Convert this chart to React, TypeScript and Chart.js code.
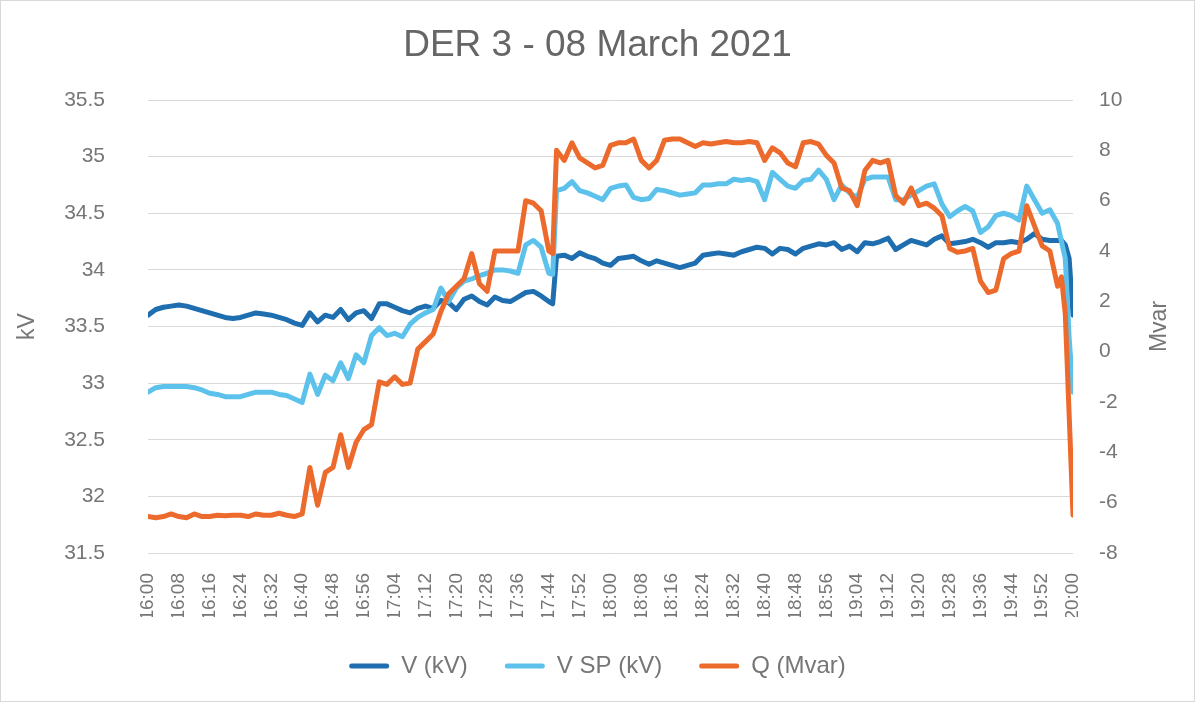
import React, { useEffect, useRef } from "react";
import { Chart, registerables } from "chart.js";
Chart.register(...registerables);

const chartTitle = "DER 3 - 08 March 2021";
const leftAxisTitle = "kV";
const rightAxisTitle = "Mvar";
const seriesNames = ["V (kV)", "V SP (kV)", "Q (Mvar)"];

const timeTicks = [
  "16:00", "16:08", "16:16", "16:24", "16:32", "16:40", "16:48", "16:56",
  "17:04", "17:12", "17:20", "17:28", "17:36", "17:44", "17:52", "18:00",
  "18:08", "18:16", "18:24", "18:32", "18:40", "18:48", "18:56", "19:04",
  "19:12", "19:20", "19:28", "19:36", "19:44", "19:52", "20:00",
];

// minutes after 16:00
const minutes = [
  0, 2, 4, 6, 8, 10, 12, 14, 16, 18, 20, 22, 24, 26, 28, 30, 32, 34, 36, 38,
  40, 42, 44, 46, 48, 50, 52, 54, 56, 58, 60, 62, 64, 66, 68, 70, 72, 74, 76, 78,
  80, 82, 84, 86, 88, 90, 92, 94, 96, 98, 100, 102, 104, 105, 106, 108, 110, 112, 114, 116,
  118, 120, 122, 124, 126, 128, 130, 132, 134, 136, 138, 140, 142, 144, 146, 148, 150, 152, 154, 156,
  158, 160, 162, 164, 166, 168, 170, 172, 174, 176, 178, 180, 182, 184, 186, 188, 190, 192, 194, 196,
  198, 200, 202, 204, 206, 208, 210, 212, 214, 216, 218, 220, 222, 224, 226, 228, 230, 232, 234, 236,
  237, 238, 239, 240,
];

const vKV = [
  33.60, 33.65, 33.67, 33.68, 33.69, 33.68, 33.66, 33.64, 33.62, 33.60, 33.58, 33.57, 33.58, 33.60, 33.62, 33.61, 33.60, 33.58, 33.56, 33.53,
  33.51, 33.62, 33.54, 33.60, 33.58, 33.65, 33.56, 33.62, 33.64, 33.57, 33.70, 33.70, 33.67, 33.64, 33.62, 33.66, 33.68, 33.66, 33.73, 33.71,
  33.65, 33.74, 33.77, 33.72, 33.69, 33.76, 33.73, 33.72, 33.76, 33.80, 33.81, 33.77, 33.72, 33.70, 34.12, 34.13, 34.10, 34.15, 34.12, 34.10,
  34.06, 34.04, 34.10, 34.11, 34.12, 34.08, 34.05, 34.08, 34.06, 34.04, 34.02, 34.04, 34.06, 34.13, 34.14, 34.15, 34.14, 34.13, 34.16, 34.18,
  34.20, 34.19, 34.14, 34.19, 34.18, 34.14, 34.19, 34.21, 34.23, 34.22, 34.24, 34.18, 34.21, 34.16, 34.24, 34.23, 34.25, 34.28, 34.18, 34.22,
  34.26, 34.24, 34.22, 34.27, 34.30, 34.23, 34.24, 34.25, 34.27, 34.24, 34.20, 34.24, 34.24, 34.25, 34.24, 34.27, 34.32, 34.27, 34.26, 34.26,
  34.26, 34.22, 34.10, 33.60,
];

const vSP = [
  32.92, 32.96, 32.97, 32.97, 32.97, 32.97, 32.96, 32.94, 32.91, 32.90, 32.88, 32.88, 32.88, 32.90, 32.92, 32.92, 32.92, 32.90, 32.89, 32.86,
  32.83, 33.08, 32.90, 33.07, 33.02, 33.18, 33.04, 33.25, 33.18, 33.42, 33.49, 33.42, 33.44, 33.41, 33.52, 33.58, 33.62, 33.65, 33.84, 33.72,
  33.84, 33.90, 33.92, 33.95, 33.97, 34.00, 34.00, 33.99, 33.97, 34.22, 34.26, 34.20, 33.97, 33.96, 34.70, 34.72, 34.78, 34.70, 34.68, 34.65,
  34.62, 34.72, 34.74, 34.75, 34.64, 34.62, 34.63, 34.71, 34.70, 34.68, 34.66, 34.67, 34.68, 34.75, 34.75, 34.76, 34.76, 34.80, 34.79, 34.80,
  34.78, 34.62, 34.86, 34.80, 34.74, 34.72, 34.79, 34.80, 34.88, 34.80, 34.62, 34.75, 34.68, 34.64, 34.80, 34.82, 34.82, 34.82, 34.62, 34.62,
  34.66, 34.70, 34.74, 34.76, 34.58, 34.47, 34.52, 34.56, 34.52, 34.33, 34.38, 34.48, 34.50, 34.48, 34.44, 34.74, 34.62, 34.50, 34.53, 34.41,
  34.25, 34.10, 33.40, 32.92,
];

const qMvar = [
  -6.55, -6.60, -6.55, -6.45, -6.55, -6.60, -6.45, -6.55, -6.55, -6.50, -6.52, -6.50, -6.50, -6.55, -6.45, -6.50, -6.50, -6.42, -6.50, -6.55,
  -6.45, -4.6, -6.1, -4.8, -4.6, -3.3, -4.6, -3.6, -3.1, -2.9, -1.2, -1.3, -1.0, -1.3, -1.25, 0.1, 0.4, 0.7, 1.6, 2.3,
  2.6, 2.9, 3.9, 2.7, 2.4, 4.0, 4.0, 4.0, 4.0, 6.0, 5.9, 5.6, 4.0, 3.9, 8.0, 7.6, 8.3, 7.7, 7.5, 7.3,
  7.4, 8.2, 8.3, 8.3, 8.45, 7.6, 7.3, 7.6, 8.4, 8.45, 8.45, 8.3, 8.15, 8.3, 8.25, 8.3, 8.35, 8.3, 8.3, 8.35,
  8.3, 7.6, 8.1, 7.9, 7.5, 7.35, 8.3, 8.35, 8.25, 7.8, 7.5, 6.5, 6.4, 5.8, 7.2, 7.6, 7.5, 7.6, 6.2, 5.9,
  6.5, 5.8, 5.9, 5.7, 5.4, 4.1, 3.95, 4.0, 4.1, 2.8, 2.35, 2.45, 3.7, 3.9, 4.0, 5.8, 5.0, 4.2, 4.0, 2.6,
  2.97, 1.5, -2.5, -6.5,
];

const COLORS = ["#1F6FB0", "#5CC2EC", "#EC6A2C"];
const FONT = "'Liberation Sans', Arial, sans-serif";
const TICK_COLOR = "#767676";

export default function App() {
  const ref = useRef<HTMLCanvasElement | null>(null);

  useEffect(() => {
    if (!ref.current) return;
    Chart.defaults.font.family = FONT;
    const series = [vKV, vSP, qMvar];
    const rightTitlePlugin = {
      id: "rightTitle",
      afterDraw(chart: any) {
        const { ctx, chartArea } = chart;
        ctx.save();
        ctx.translate(1160, (chartArea.top + chartArea.bottom) / 2);
        ctx.rotate(-Math.PI / 2);
        ctx.font = `23px ${FONT}`;
        ctx.fillStyle = TICK_COLOR;
        ctx.textAlign = "center";
        ctx.textBaseline = "middle";
        ctx.fillText(rightAxisTitle, 0, 0);
        ctx.restore();
      },
    };
    const chart = new Chart(ref.current, {
      type: "line",
      data: {
        datasets: series.map((vals, i) => ({
          label: seriesNames[i],
          data: minutes.map((m, j) => ({ x: m, y: vals[j] })),
          yAxisID: i === 2 ? "y1" : "y",
          borderColor: COLORS[i],
          backgroundColor: COLORS[i],
          borderWidth: 5,
          pointRadius: 0,
          tension: 0,
          borderJoinStyle: "round",
          borderCapStyle: "round",
          order: 3 - i,
        })),
      },
      options: {
        animation: false,
        responsive: false,
        layout: { padding: { left: 0, right: 0, top: 0, bottom: 14 } },
        plugins: {
          tooltip: { enabled: false },
          title: {
            display: true,
            text: chartTitle,
            color: "#666666",
            font: { size: 37, weight: "normal", family: FONT },
            padding: { top: 24, bottom: 31.6 },
          },
          legend: {
            position: "bottom",
            labels: {
              boxWidth: 40,
              boxHeight: 5,
              padding: 37,
              color: TICK_COLOR,
              font: { size: 24, family: FONT },
              generateLabels: (c: any) =>
                (Chart.defaults.plugins.legend.labels as any)
                  .generateLabels(c)
                  .map((it: any) => ({ ...it, lineWidth: 0, borderRadius: 2.5 }))
                  .sort((a: any, b: any) => a.datasetIndex - b.datasetIndex),
            },
          },
        },
        scales: {
          x: {
            type: "linear",
            min: 0,
            max: 240,
            grid: { display: false },
            border: { display: false },
            ticks: {
              stepSize: 8,
              autoSkip: false,
              minRotation: 90,
              maxRotation: 90,
              padding: 12,
              color: TICK_COLOR,
              font: { size: 19 },
              callback: (v: any) => timeTicks[Math.round(Number(v) / 8)] ?? "",
            },
            afterFit: (s: any) => {
              s.height = 64;
            },
          },
          y: {
            position: "left",
            min: 31.5,
            max: 35.5,
            grid: { color: "#D9D9D9", lineWidth: 1, drawTicks: false },
            border: { display: false },
            ticks: {
              stepSize: 0.5,
              padding: 43,
              color: TICK_COLOR,
              font: { size: 21 },
              callback: (v: any) => String(Math.round(Number(v) * 10) / 10),
            },
            title: {
              display: true,
              text: leftAxisTitle,
              color: TICK_COLOR,
              font: { size: 23 },
              padding: { top: 14, bottom: 0 },
            },
            afterFit: (s: any) => {
              s.width = 148;
            },
          },
          y1: {
            position: "right",
            min: -8,
            max: 10,
            grid: { drawOnChartArea: false, drawTicks: false },
            border: { display: false },
            ticks: { stepSize: 2, padding: 26, color: TICK_COLOR, font: { size: 21 } },
            afterFit: (s: any) => {
              s.width = 122;
            },
          },
        },
      },
      plugins: [rightTitlePlugin],
    } as any);
    return () => chart.destroy();
  }, []);

  return (
    <div style={{ position: "fixed", left: 0, top: 0, width: 1195, height: 702, background: "#fff" }}>
      <canvas ref={ref} width={1195} height={702} style={{ display: "block" }} />
      <div
        style={{
          position: "absolute",
          left: 0,
          top: 0,
          width: 1193,
          height: 700,
          border: "1px solid #D9D9D9",
          pointerEvents: "none",
        }}
      />
    </div>
  );
}
